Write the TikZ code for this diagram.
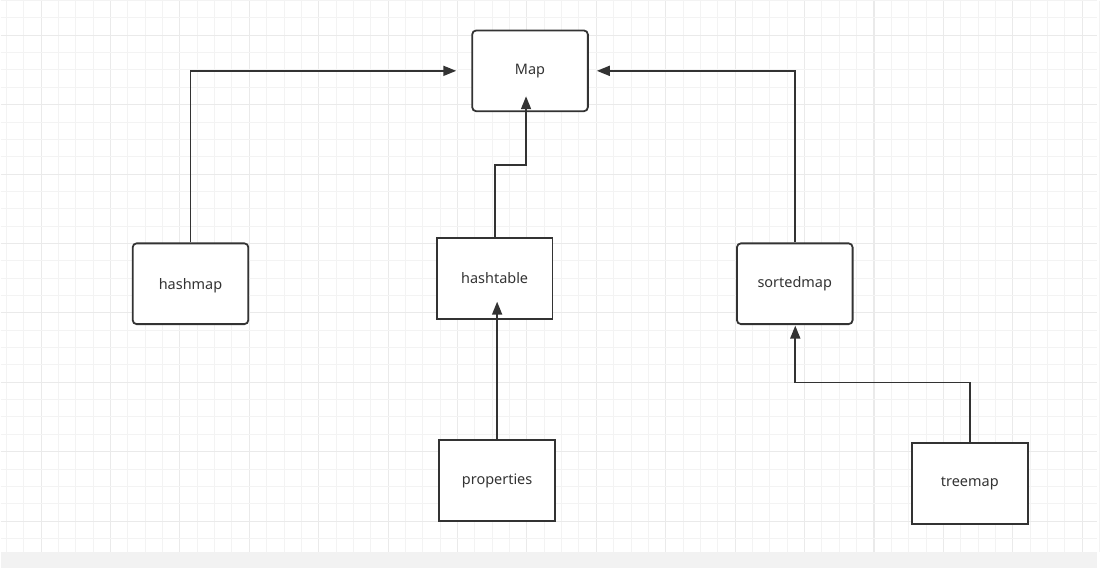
\documentclass[tikz,border=0pt]{standalone}
\usepackage{fontspec}
\setmainfont{Noto Sans}
\usetikzlibrary{arrows.meta,positioning}

\definecolor{ink}{HTML}{333333}
\definecolor{gridminor}{HTML}{F3F3F3}
\definecolor{gridmajor}{HTML}{EAEAEA}
\definecolor{strip}{HTML}{F2F2F2}

\begin{document}
\begin{tikzpicture}[x=1pt,y=-1pt,
  cls/.style={draw=ink,line width=1.8pt,fill=white,text=ink,
    minimum width=116pt,minimum height=81pt,font=\fontsize{14.5}{16}\selectfont},
  rcls/.style={cls,rounded corners=4pt},
  inh/.style={-{Triangle[length=13pt,width=10pt]},line width=1.8pt,draw=ink}]
% background and grid
\fill[white] (0,0) rectangle (1100,569);
\foreach \i in {0,...,63} {
  \pgfmathtruncatemacro{\m}{mod(\i,4)}
  \ifnum\m=2 \draw[gridmajor,line width=1.1pt] (5.9+17.4*\i,0) -- (5.9+17.4*\i,553);
  \else \draw[gridminor,line width=1pt] (5.9+17.4*\i,0) -- (5.9+17.4*\i,553); \fi
}
\foreach \j in {0,...,31} {
  \pgfmathtruncatemacro{\m}{mod(\j,4)}
  \ifnum\m=2 \draw[gridmajor,line width=1.1pt] (0,17.4*\j) -- (1100,17.4*\j);
  \else \draw[gridminor,line width=1pt] (0,17.4*\j) -- (1100,17.4*\j); \fi
}
\fill[strip] (0,553) rectangle (1100,569);
% classes
\node[rcls] (map) at (531,70.5) {Map};
\node[rcls,text depth=-2pt] (hashmap) at (190.5,284) {hashmap};
\node[cls] (hashtable) at (495.5,278.5) {hashtable};
\node[rcls] (sortedmap) at (796.5,284) {sortedmap};
\node[cls] (properties) at (498,481.5) {properties};
\node[cls] (treemap) at (972,484.5) {treemap};
% arrow ends
\coordinate (mapleft) at (457,70.5);
\coordinate (mapright) at (598,70.5);
\coordinate (mapbottom) at (527,96);
\coordinate (htbottom) at (498,302);
\coordinate (smbottom) at (797,326);
% inheritance
\draw[inh] (hashmap.north) |- (mapleft);
\draw[inh] (sortedmap.north) |- (mapright);
\draw[inh] (hashtable.north) -- ++(0,-72) -| (mapbottom);
\draw[inh] (properties.north) -- (htbottom);
\draw[inh] (treemap.north) -- ++(0,-60) -| (smbottom);
\useasboundingbox (0,0) rectangle (1100,569);
\end{tikzpicture}
\end{document}
